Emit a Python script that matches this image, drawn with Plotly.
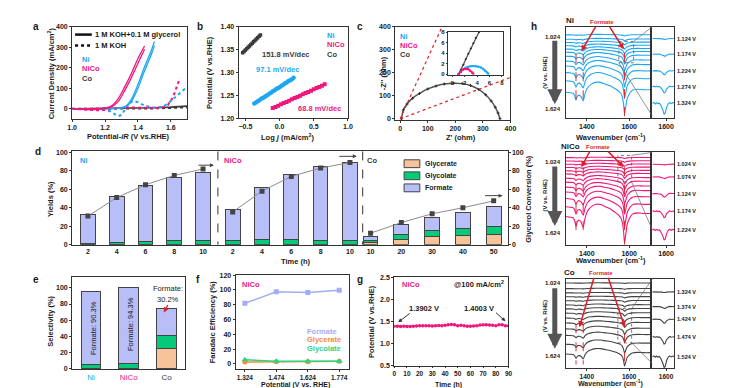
import plotly.graph_objects as go

W, H = 737, 388
FONT = "Liberation Sans, Arial, sans-serif"
BLUE = "#1EA6F2"
PINK = "#F2167B"
DARK = "#3A3A3A"
AXC = "#333333"
RED = "#DD1F26"
FORM = "#B8BEF7"
GLYCOLATE = "#06C97A"
GLYCERATE = "#F6C39B"
F_FORM = "#A3ACF4"
F_GLYR = "#F28C3A"
F_GLYC = "#2ED47E"

# ---------------- data ----------------
# (a) LSV curves
a_nico_x = [1.00, 1.05, 1.10, 1.15, 1.20, 1.24, 1.28, 1.32, 1.36, 1.40, 1.44]
a_nico_y1 = [0, 1, 1, 2, 4, 15, 50, 108, 172, 245, 306]
a_nico_y2 = [0, -2, -4, -3, 1, 9, 36, 90, 152, 222, 290]
a_ni_x = [1.00, 1.10, 1.20, 1.26, 1.30, 1.33, 1.36, 1.40, 1.44, 1.48, 1.50]
a_ni_y1 = [0, 0, 1, 2, 5, 16, 46, 118, 205, 282, 328]
a_ni_y2 = [0, -1, 0, 1, 3, 11, 36, 100, 185, 262, 308]
a_co_x = [1.00, 1.20, 1.40, 1.50, 1.60, 1.70]
a_co_y = [0, 1, 3, 5, 8, 13]
a_co_ky = [0, 0, 1, 2, 4, 7]
a_ni_kx = [1.00, 1.10, 1.18, 1.23, 1.26, 1.28, 1.30, 1.32, 1.34, 1.37, 1.40, 1.44, 1.50, 1.55, 1.58, 1.61, 1.64, 1.67, 1.70]
a_ni_ky = [0, -2, -5, -12, -25, -36, -30, -8, 20, 38, 32, 15, 6, 10, 25, 45, 65, 85, 108]
a_nico_kx = [1.00, 1.10, 1.17, 1.22, 1.28, 1.35, 1.45, 1.52, 1.56, 1.58, 1.60, 1.62, 1.64, 1.655]
a_nico_ky = [0, -4, -8, -3, 4, 6, 4, 4, 10, 18, 38, 72, 118, 150]

# (b) Tafel
b_co_x = [-0.54, -0.52, -0.50, -0.48, -0.46, -0.44, -0.42, -0.40, -0.38, -0.36, -0.34, -0.32, -0.30, -0.28]
b_co_y = [1.343, 1.346, 1.349, 1.352, 1.355, 1.358, 1.361, 1.364, 1.367, 1.370, 1.373, 1.376, 1.379, 1.382]
b_ni_x = [-0.37, -0.345, -0.32, -0.295, -0.27, -0.245, -0.22, -0.195, -0.17, -0.145, -0.12, -0.095,
          -0.07, -0.045, -0.02, 0.005, 0.03, 0.055, 0.08, 0.105, 0.13, 0.155, 0.18, 0.205]
b_ni_y = [1.232, 1.234, 1.237, 1.239, 1.242, 1.244, 1.246, 1.249, 1.251, 1.254, 1.256, 1.259,
          1.261, 1.264, 1.266, 1.268, 1.271, 1.273, 1.276, 1.278, 1.281, 1.283, 1.285, 1.288]
b_nico_x = [-0.10, -0.06, -0.02, 0.02, 0.06, 0.10, 0.14, 0.18, 0.22, 0.26, 0.30, 0.34, 0.38, 0.42,
            0.46, 0.50, 0.54, 0.58, 0.62, 0.66]
b_nico_y = [1.222, 1.224, 1.227, 1.230, 1.233, 1.235, 1.238, 1.241, 1.244, 1.246, 1.249, 1.252,
            1.255, 1.257, 1.260, 1.263, 1.266, 1.268, 1.271, 1.274]

# (c) Nyquist
c_co_zr = [5, 12, 25, 45, 70, 100, 130, 160, 194, 225, 255, 285, 310, 330, 345, 355, 362]
c_co_zi = [0, 40, 65, 90, 110, 130, 143, 151, 155, 153, 145, 128, 105, 78, 50, 25, 0]
ci_co_zr = [1.0, 1.4, 1.8, 2.2, 2.6, 3.0, 3.4, 3.8, 4.3]
ci_co_zi = [0.0, 0.8, 1.8, 2.9, 3.9, 4.9, 5.9, 6.9, 8.0]
ci_ni_zr = [1.0, 1.4, 1.8, 2.2, 2.6, 3.0, 3.4, 3.8, 4.2, 4.6, 5.0, 5.3, 5.6, 5.8]
ci_ni_zi = [0.05, 0.5, 0.95, 1.25, 1.45, 1.55, 1.6, 1.55, 1.45, 1.3, 1.0, 0.7, 0.35, 0.1]
ci_nico_zr = [1.1, 1.4, 1.7, 2.0, 2.3, 2.6, 2.9, 3.2, 3.4]
ci_nico_zi = [0.05, 0.5, 0.85, 1.0, 1.0, 0.95, 0.7, 0.35, 0.1]

# (d) yields and conversion
d_ni_t = [2, 4, 6, 8, 10]
d_ni_glycerate = [0.2, 0.3, 0.3, 0.3, 0.3]
d_ni_glycolate = [1.0, 2.5, 3.5, 4.0, 4.5]
d_ni_formate = [31.8, 49.2, 60.2, 68.2, 73.2]
d_ni_conv = [31, 51, 65, 75, 82]
d_nico_t = [2, 4, 6, 8, 10]
d_nico_glycerate = [0.3, 0.3, 0.3, 0.3, 0.3]
d_nico_glycolate = [4.2, 5.2, 5.2, 4.7, 4.2]
d_nico_formate = [33.5, 56.5, 70.5, 80.0, 84.5]
d_nico_conv = [35.5, 58, 74, 83, 89]
d_co_t = [10, 20, 30, 40, 50]
d_co_glycerate = [2.9, 5.7, 9.0, 10.0, 10.7]
d_co_glycolate = [1.7, 5.0, 6.0, 7.5, 9.3]
d_co_formate = [4.4, 11.3, 14.0, 17.5, 21.0]
d_co_conv = [12.5, 24, 33.5, 40, 47.5]

# (e) selectivity
e_labels = ["Ni", "NiCo", "Co"]
e_pos = [0, 1, 2]
e_glycerate = [0.5, 0.5, 25.0]
e_glycolate = [5.0, 5.5, 15.5]
e_formate = [89.5, 94.0, 34.3]

# (f) faradaic efficiency
f_pot = [1.324, 1.474, 1.624, 1.774]
f_formate = [82, 97.5, 96.5, 99.5]
f_glycerate = [2.5, 3.0, 3.0, 3.5]
f_glycolate = [5.5, 3.5, 3.5, 3.5]

# (g) stability
g_time = [0, 2.5, 5, 7.5, 10, 12.5, 15, 17.5, 20, 22.5, 25, 27.5, 30, 32.5, 35, 37.5, 40, 42.5, 45,
          47.5, 50, 52.5, 55, 57.5, 60, 62.5, 65, 67.5, 70, 72.5, 75, 77.5, 80, 82.5, 85, 87.5, 90]
g_pot = [1.390, 1.390, 1.385, 1.390, 1.385, 1.385, 1.390, 1.395, 1.400, 1.400, 1.400, 1.400, 1.395,
         1.400, 1.405, 1.400, 1.410, 1.420, 1.430, 1.420, 1.400, 1.410, 1.400, 1.390, 1.390, 1.395,
         1.400, 1.415, 1.420, 1.420, 1.415, 1.410, 1.400, 1.420, 1.425, 1.400, 1.400]

# (h) in-situ IR: base band profile (px deflection, up positive) and per-spectrum offset / depth
h_wn = [1300, 1320, 1335, 1342, 1349, 1356, 1365, 1374, 1383, 1391, 1402, 1420, 1440, 1465, 1490,
        1510, 1530, 1548, 1560, 1568, 1574, 1578, 1583, 1590, 1600, 1615, 1640, 1670, 1700]
h_shape = [0, -0.5, -1, -3, -8, -4, -3, -5, -9, -2, 4, 8, 10, 10, 8, 6.5, 4, 1.5, -1, -5, -13, -22,
           -16, -7, -2, 2, 3, 2.5, 2.5]
h_ni_off = [8.3, 12.7, 16, 19.3, 22.7, 26, 30, 35, 40, 46.7, 55, 66.7]
h_ni_dep = [0.05, 0.08, 0.12, 0.16, 0.22, 0.28, 0.36, 0.45, 0.55, 0.68, 0.82, 1.0]
h_nico_off = [5.3, 8.7, 12, 15.3, 18.7, 22, 26.3, 30.3, 35.3, 40.3, 47, 55.3, 65.3]
h_nico_dep = [0.04, 0.06, 0.09, 0.12, 0.16, 0.21, 0.27, 0.35, 0.45, 0.57, 0.72, 0.95, 1.23]
h_co_off = [4, 9.7, 14, 18, 22, 26.3, 30.3, 34.7, 39.7, 44.7, 50.7, 57.3, 66.3, 76.3]
h_co_dep = [0.02, 0.03, 0.04, 0.05, 0.07, 0.09, 0.11, 0.14, 0.17, 0.21, 0.26, 0.32, 0.42, 0.55]
side_wn = [1530, 1538, 1545, 1552, 1558, 1565, 1572, 1578, 1584, 1590, 1596, 1602, 1610, 1618, 1626, 1634, 1640]
side_shape = [0, 0.6, -0.4, 0.5, -0.3, 0.2, -1, -2.5, -5, -8, -7, -3, -0.5, 0.6, -0.2, 0.5, 0.3]
side_ni_off = [12, 28, 45, 61, 78]
side_ni_dep = [0.15, 0.3, 0.5, 0.8, 1.4]
side_ni_lab = ["1.124 V", "1.174 V", "1.224 V", "1.274 V", "1.324 V"]
side_nico_off = [12, 25, 42, 60, 79]
side_nico_dep = [0.1, 0.25, 0.45, 0.8, 1.3]
side_nico_lab = ["1.024 V", "1.074 V", "1.124 V", "1.174 V", "1.224 V"]
side_co_off = [13, 28, 41, 59, 79]
side_co_dep = [0.1, 0.3, 0.5, 0.9, 1.4]
side_co_lab = ["1.324 V", "1.374 V", "1.424 V", "1.474 V", "1.524 V"]

# ---------------- helpers ----------------
fig = go.Figure()
annotations, shapes = [], []


def xd(a, b):
    return [a / W, b / W]


def yd(top, bottom):
    return [1 - bottom / H, 1 - top / H]


TICKF = dict(family=FONT, size=7, color="#1a1a1a", weight="bold")


def ax(dom, rng, anchor, **kw):
    d = dict(domain=dom, range=rng, anchor=anchor, showline=True, mirror=True,
             linecolor=AXC, linewidth=1, ticks="outside", ticklen=2, tickwidth=1,
             tickcolor=AXC, tickfont=TICKF, showgrid=False, zeroline=False, fixedrange=True)
    d.update(kw)
    return d


def txt(x, y, s, size=7.5, color="#1a1a1a", xa="center", ya="middle", angle=0, bold=True):
    annotations.append(dict(x=x / W, y=1 - y / H, xref="paper", yref="paper", text=s,
                            showarrow=False, xanchor=xa, yanchor=ya, textangle=angle, borderpad=0,
                            font=dict(family=FONT, size=size, color=color,
                                      weight="bold" if bold else "normal")))


def arrow(x0, y0, x1, y1, color="#444", width=1, head=2, size=1.0):
    annotations.append(dict(x=x1 / W, y=1 - y1 / H, ax=x0 - x1, ay=y0 - y1, xref="paper",
                            yref="paper", axref="pixel", ayref="pixel", text="", showarrow=True,
                            arrowhead=head, arrowwidth=width, arrowcolor=color, arrowsize=size))


def pline(x0, y0, x1, y1, color, width=1, dash="solid"):
    shapes.append(dict(type="line", xref="paper", yref="paper", x0=x0 / W, y0=1 - y0 / H,
                       x1=x1 / W, y1=1 - y1 / H, line=dict(color=color, width=width, dash=dash)))


def prect(x0, y0, x1, y1, fill=None, color="#555", width=0.8, dash="solid"):
    shapes.append(dict(type="rect", xref="paper", yref="paper", x0=x0 / W, y0=1 - y1 / H,
                       x1=x1 / W, y1=1 - y0 / H, fillcolor=fill or "rgba(0,0,0,0)",
                       line=dict(color=color, width=width, dash=dash)))


def sc(x, y, xa, ya, **kw):
    fig.add_trace(go.Scatter(x=x, y=y, xaxis=xa, yaxis=ya, hoverinfo="skip", **kw))


# ---------------- (a) ----------------
sc(a_co_x, a_co_y, "x", "y", mode="lines", line=dict(color=DARK, width=1.6))
sc(a_co_x, a_co_ky, "x", "y", mode="lines", line=dict(color=DARK, width=2, dash="dot"))
sc(a_ni_kx, a_ni_ky, "x", "y", mode="lines", line=dict(color=BLUE, width=2, dash="dot"))
sc(a_nico_kx, a_nico_ky, "x", "y", mode="lines", line=dict(color=PINK, width=2, dash="dot"))
sc(a_ni_x, a_ni_y2, "x", "y", mode="lines", line=dict(color=BLUE, width=1.3, shape="spline"))
sc(a_ni_x, a_ni_y1, "x", "y", mode="lines", line=dict(color=BLUE, width=1.3, shape="spline"))
sc(a_nico_x, a_nico_y2, "x", "y", mode="lines", line=dict(color=PINK, width=1.3, shape="spline"))
sc(a_nico_x, a_nico_y1, "x", "y", mode="lines", line=dict(color=PINK, width=1.3, shape="spline"))

# ---------------- (b) ----------------
sc(b_co_x, b_co_y, "x2", "y2", mode="markers", marker=dict(color=DARK, size=3.5, symbol="square"))
sc(b_ni_x, b_ni_y, "x2", "y2", mode="markers", marker=dict(color=BLUE, size=4.5))
sc(b_nico_x, b_nico_y, "x2", "y2", mode="markers", marker=dict(color=PINK, size=4, symbol="square"))

# ---------------- (c) ----------------
sc(c_co_zr, c_co_zi, "x3", "y3", mode="lines+markers", line=dict(color="#555", width=1.5, shape="spline"),
   marker=dict(color="#333", size=2.5, symbol="cross"))
sc(ci_co_zr, ci_co_zi, "x4", "y4", mode="lines+markers", line=dict(color="#555", width=1.3),
   marker=dict(color="#333", size=2.2))
sc(ci_ni_zr, ci_ni_zi, "x4", "y4", mode="lines+markers", line=dict(color=BLUE, width=1.5, shape="spline"),
   marker=dict(color=BLUE, size=2.5))
sc(ci_nico_zr, ci_nico_zi, "x4", "y4", mode="lines+markers", line=dict(color=PINK, width=1.5, shape="spline"),
   marker=dict(color=PINK, size=2.5))
shapes.append(dict(type="line", xref="x3", yref="y3", x0=0, y0=0, x1=150, y1=395,
                   line=dict(color=RED, width=1.2, dash="dot")))
shapes.append(dict(type="line", xref="x3", yref="y3", x0=0, y0=0, x1=400, y1=180,
                   line=dict(color=RED, width=1.2, dash="dot")))

# ---------------- (h) ----------------
def add_spectra(xa, ya, offs, deps, color):
    for off, dep in zip(offs, deps):
        sc(h_wn, [off - dep * s for s in h_shape], xa, ya, mode="lines",
           line=dict(color=color, width=1.1, shape="spline", smoothing=0.6))


def add_side(xa, ya, offs, deps, color):
    for off, dep in zip(offs, deps):
        sc(side_wn, [off - dep * s for s in side_shape], xa, ya, mode="lines",
           line=dict(color=color, width=1.1))


add_spectra("x5", "y5", h_ni_off, h_ni_dep, BLUE)
add_side("x6", "y6", side_ni_off, side_ni_dep, BLUE)
add_spectra("x7", "y7", h_nico_off, h_nico_dep, PINK)
add_side("x8", "y8", side_nico_off, side_nico_dep, PINK)
add_spectra("x9", "y9", h_co_off, h_co_dep, "#444")
add_side("x10", "y10", side_co_off, side_co_dep, "#444")

for ya, (top1, bot1, top2, bot2) in [("y5", (28, 75, 27, 92)), ("y7", (15, 85, 15, 94)), ("y9", (46, 87, 56, 90))]:
    xa = "x" + ya[1:]
    for wn, t, b in [(1349, top1, bot1), (1383, top1, bot1), (1578, top2, bot2)]:
        shapes.append(dict(type="line", xref=xa, yref=ya, x0=wn, x1=wn, y0=t, y1=b,
                           line=dict(color=RED, width=0.9, dash="dash")))

# zoom boxes and connectors
prect(615, 30, 630, 51.7, color="#555", dash="dot")
pline(630, 30, 649, 15, "#666", 0.7)
pline(615, 51.7, 649, 106, "#666", 0.7)
prect(614, 146, 628, 173, color="#555", dash="dot")
pline(628, 146, 649, 143, "#666", 0.7)
pline(628, 173, 649, 222, "#666", 0.7)
prect(614, 302, 628, 337, color="#555", dash="dot")
pline(628, 302, 649, 272, "#666", 0.7)
pline(628, 337, 649, 358, "#666", 0.7)

for top, lab, off_list, labs in [(15, "Ni", side_ni_off, side_ni_lab), (143, "NiCo", side_nico_off, side_nico_lab),
                                 (272, "Co", side_co_off, side_co_lab)]:
    for o, l in zip(off_list, labs):
        txt(673, top + o, l, size=5.5, xa="left")

txt(565, 9, "Ni", size=8)
txt(566, 137, "NiCo", size=8)
txt(565, 265, "Co", size=8)
txt(598, 10, "Formate", size=6, color=RED)
txt(594, 137, "Formate", size=6, color=RED)
txt(597, 266, "Formate", size=6, color=RED)
arrow(592, 14, 577, 40, RED, 1.5, 2, 0.8)
arrow(605, 14, 620, 38, RED, 1.5, 2, 0.8)
arrow(586, 141, 577, 158, RED, 1.5, 2, 0.8)
arrow(603, 141, 620, 158, RED, 1.5, 2, 0.8)
arrow(590, 270, 575, 321, RED, 1.5, 2, 0.8)
arrow(604, 270, 621, 321, RED, 1.5, 2, 0.8)

for (t0, t1, l0, l1, r) in [(29, 94, 25, 99, 62), (157, 218, 153, 225, 187), (281, 343, 276, 350, 310)]:
    arrow(550, t0, 550, t1, "#555", 5, 2, 0.6)
    txt(548, l0, "1.024", size=6)
    txt(548, l1, "1.624", size=6)
    txt(540, r, "(V vs. RHE)", size=6, angle=-90)

# ---------------- (d) ----------------
for xa, t, gr, gl, fo, w in [("x11", d_ni_t, d_ni_glycerate, d_ni_glycolate, d_ni_formate, 1.03),
                             ("x12", d_nico_t, d_nico_glycerate, d_nico_glycolate, d_nico_formate, 1.0),
                             ("x13", d_co_t, d_co_glycerate, d_co_glycolate, d_co_formate, 4.8)]:
    for vals, col in [(gr, GLYCERATE), (gl, GLYCOLATE), (fo, FORM)]:
        fig.add_trace(go.Bar(x=t, y=vals, xaxis=xa, yaxis="y11", width=w, hoverinfo="skip",
                             marker=dict(color=col, line=dict(color="#444", width=1))))
for xa, ya, t, cv in [("x11", "y11", d_ni_t, d_ni_conv), ("x12", "y11", d_nico_t, d_nico_conv),
                      ("x13", "y12", d_co_t, d_co_conv)]:
    sc(t, cv, xa, ya, mode="lines+markers", line=dict(color="#8c8c8c", width=1),
       marker=dict(color="#444", size=5, symbol="square"))

pline(208, 142, 208, 237, "#333", 1, "dash")
pline(355, 142, 355, 237, "#333", 1, "dash")
txt(72, 151, "Ni", color=BLUE)
txt(213, 151, "NiCo", color=PINK, xa="left")
txt(358, 151, "Co", color=DARK, xa="left")
arrow(187, 156, 204, 156, "#444", 1, 2, 0.8)
arrow(330, 147, 349, 147, "#444", 1, 2, 0.8)
arrow(478, 187, 497, 187, "#444", 1, 2, 0.8)
for i, (name, col) in enumerate([("Glycerate", GLYCERATE), ("Glycolate", GLYCOLATE), ("Formate", FORM)]):
    yy = 154.5 + i * 12.3
    prect(397, yy - 4, 413, yy + 4, fill=col, color="#444", width=1)
    txt(417, yy, name, size=7, xa="left")

# ---------------- (e) ----------------
for vals, col in [(e_glycerate, GLYCERATE), (e_glycolate, GLYCOLATE), (e_formate, FORM)]:
    fig.add_trace(go.Bar(x=e_pos, y=vals, xaxis="x14", yaxis="y13", width=0.52, hoverinfo="skip",
                         marker=dict(color=col, line=dict(color="#444", width=1))))
txt(81, 322, "Formate: 90.3%", size=7.5, angle=-90, bold=False)
txt(119.5, 318, "Formate: 94.3%", size=7.5, angle=-90, bold=False)
txt(157, 282, "Formate:", size=7.5, bold=False)
txt(157, 293, "30.2%", size=7.5, bold=False)
arrow(158, 297, 153, 306, RED, 1.3, 2, 0.8)

# ---------------- (f) ----------------
sc(f_pot, f_formate, "x15", "y14", mode="lines+markers", line=dict(color=F_FORM, width=1.5),
   marker=dict(color=F_FORM, size=5, symbol="square"))
sc(f_pot, f_glycerate, "x15", "y14", mode="lines+markers", line=dict(color=F_GLYR, width=1.5),
   marker=dict(color=F_GLYR, size=5))
sc(f_pot, f_glycolate, "x15", "y14", mode="lines+markers", line=dict(color=F_GLYC, width=1.5),
   marker=dict(color=F_GLYC, size=6, symbol="triangle-up"))
txt(231, 278, "NiCo", color=PINK, xa="left")
txt(297, 325, "Formate", color=F_FORM, xa="left")
txt(297, 334, "Glycerate", color=F_GLYR, xa="left")
txt(297, 343, "Glycolate", color=F_GLYC, xa="left")

# ---------------- (g) ----------------
sc(g_time, g_pot, "x16", "y15", mode="lines+markers", line=dict(color=PINK, width=1),
   marker=dict(color=PINK, size=3.5))
txt(394, 277, "NiCo", color=PINK, xa="left")
txt(473, 277, "@100 mA/cm<sup>2</sup>")
txt(417, 302, "1.3902 V")
txt(473, 302, "1.4003 V")
arrow(404, 306, 391, 316, "#333", 1, 2, 0.8)
arrow(489, 305, 500, 315, "#333", 1, 2, 0.8)

# ---------------- panel letters & axis titles ----------------
for x, y, l in [(23, 15, "a"), (190, 15, "b"), (352, 15, "c"), (529, 15, "h"), (25, 142, "d"),
                (23, 272, "e"), (188, 272, "f"), (352, 272, "g")]:
    txt(x, y, l, size=10)

txt(38, 62, "Current Density (mA/cm<sup>2</sup>)", angle=-90)
txt(117, 127, "Potential-<i>iR</i> (V vs.RHE)")
txt(200, 62, "Potential (V vs.RHE)", angle=-90)
txt(279, 127, "Log <i>j</i> (mA/cm<sup>2</sup>)")
txt(376, 62, "-Z'' (ohm)", angle=-90)
txt(455, 128, "Z' (ohm)")
txt(607, 127, "Wavenumber (cm<sup>-1</sup>)")
txt(607, 253, "Wavenumber (cm<sup>-1</sup>)")
txt(607, 378.5, "Wavenumber (cm<sup>-1</sup>)", size=7)
txt(38, 190, "Yields (%)", angle=-90)
txt(287, 254, "Time (h)")
txt(523, 190, "Glycerol Conversion (%)", angle=-90)
txt(38, 315, "Selectivity (%)", angle=-90)
txt(202, 315, "Faradaic Efficiency (%)", angle=-90)
txt(287, 380, "Potential (V vs. RHE)", size=7)
txt(364, 315, "Potential (V vs.RHE)", angle=-90)
txt(442, 380, "Time (h)", size=7)

# labels a, b, c
txt(69, 48, "Ni", color=BLUE, xa="left")
txt(69, 58, "NiCo", color=PINK, xa="left")
txt(69, 68, "Co", color=DARK, xa="left")
pline(63, 23, 80, 23, "#111", 2.5)
pline(63, 34, 80, 34, "#111", 2.5, "dot")
txt(82, 23, "1 M KOH+0.1 M glycerol", xa="left")
txt(82, 34, "1 M KOH", xa="left")
txt(318, 24, "Ni", color=BLUE, xa="left")
txt(318, 33, "NiCo", color=PINK, xa="left")
txt(318, 43, "Co", color=DARK, xa="left")
txt(277, 43, "151.8 mV/dec", color=DARK)
txt(268, 59, "97.1 mV/dec", color=BLUE)
txt(311, 98, "68.8 mV/dec", color=PINK)
txt(392, 25, "Ni", color=BLUE, xa="left")
txt(392, 34, "NiCo", color=PINK, xa="left")
txt(392, 43, "Co", color=DARK, xa="left")

# ---------------- axes ----------------
small = dict(TICKF, size=6)
bottomf = dict(TICKF, size=6.5)
hide = dict(showticklabels=False, ticks="")
L = {}
L["xaxis"] = ax(xd(60, 177), [1.0, 1.7], "y", tickvals=[1.0, 1.2, 1.4, 1.6], tickformat=".1f")
L["yaxis"] = ax(yd(15, 109), [-50, 400], "x", tickvals=[0, 100, 200, 300, 400])
L["xaxis2"] = ax(xd(229, 340), [-0.6, 1.0], "y2", tickvals=[-0.5, 0, 0.5, 1.0], tickformat=".1f")
L["yaxis2"] = ax(yd(15, 108), [1.2, 1.4], "x2", tickvals=[1.20, 1.25, 1.30, 1.35, 1.40], tickformat=".2f")
L["xaxis3"] = ax(xd(388, 505), [-18, 400], "y3", tickvals=[0, 100, 200, 300, 400])
L["yaxis3"] = ax(yd(15, 110), [-5, 400], "x3", tickvals=[0, 100, 200, 300, 400])
L["xaxis4"] = ax(xd(442, 497), [-0.6, 8.1], "y4", tickvals=[0, 2, 4, 6, 8], tickfont=small, ticklen=1.5)
L["yaxis4"] = ax(yd(20, 64), [-0.1, 8.1], "x4", tickvals=[0, 2, 4, 6, 8], tickfont=small, ticklen=1.5)
for i, (top, bot) in zip([5, 7, 9], [(15, 108), (143, 237), (272, 363)]):
    kw = dict(tickfont=bottomf, ticklen=1.5) if i == 9 else {}
    L[f"xaxis{i}"] = ax(xd(561, 647), [1300, 1700], f"y{i}", tickvals=[1400, 1600], **kw)
    L[f"yaxis{i}"] = ax(yd(top, bot), [bot - top, 0], f"x{i}", **hide)
    L[f"xaxis{i+1}"] = ax(xd(649, 671), [1530, 1640], f"y{i+1}", tickvals=[1600], **kw)
    L[f"yaxis{i+1}"] = ax(yd(top, bot), [bot - top, 0], f"x{i+1}", **hide)
L["xaxis11"] = ax(xd(60, 208), [0.9, 11.03], "y11", tickvals=[2, 4, 6, 8, 10], ticks="")
L["xaxis12"] = ax(xd(208, 355), [0.99, 10.87], "y11", tickvals=[2, 4, 6, 8, 10], ticks="")
L["xaxis13"] = ax(xd(355, 502), [7.44, 54.5], "y11", tickvals=[10, 20, 30, 40, 50], ticks="")
L["yaxis11"] = ax(yd(142, 237), [0, 101], "x11", tickvals=[0, 20, 40, 60, 80, 100], mirror=False)
L["yaxis12"] = ax(yd(142, 237), [0, 101], "x13", side="right", overlaying="y11",
                  tickvals=[0, 20, 40, 60, 80, 100], mirror=False)
L["xaxis14"] = ax(xd(60, 175), [-0.5, 2.5], "y13", tickvals=e_pos, ticks="",
                  ticktext=[f"<span style='color:{c}'>{t}</span>" for t, c in zip(e_labels, [BLUE, PINK, DARK])],
                  tickfont=dict(TICKF, size=8, weight="normal"))
L["yaxis13"] = ax(yd(270, 364), [-1.2, 113.4], "x14", tickvals=[0, 20, 40, 60, 80, 100])
L["xaxis15"] = ax(xd(226, 341), [1.28, 1.82], "y14", tickvals=f_pot, tickformat=".3f", ticklen=1.5,
                  tickfont=bottomf)
L["yaxis14"] = ax(yd(268, 364), [-7.5, 120], "x15", tickvals=[0, 20, 40, 60, 80, 100, 120])
L["xaxis16"] = ax(xd(387, 503), [0, 90], "y15", tickvals=[0, 10, 20, 30, 40, 50, 60, 70, 80, 90],
                  ticklen=1.5, tickfont=bottomf)
L["yaxis15"] = ax(yd(270, 360), [0.5, 2.5], "x16", tickvals=[0.5, 1.0, 1.5, 2.0, 2.5], tickformat=".1f")

fig.update_layout(width=W, height=H, autosize=False, margin=dict(l=0, r=0, t=0, b=0, pad=0),
                  paper_bgcolor="white", plot_bgcolor="white", showlegend=False, barmode="stack",
                  hovermode=False, font=dict(family=FONT, size=7, color="#1a1a1a"),
                  annotations=annotations, shapes=shapes, **L)
fig.write_html("out.html")
